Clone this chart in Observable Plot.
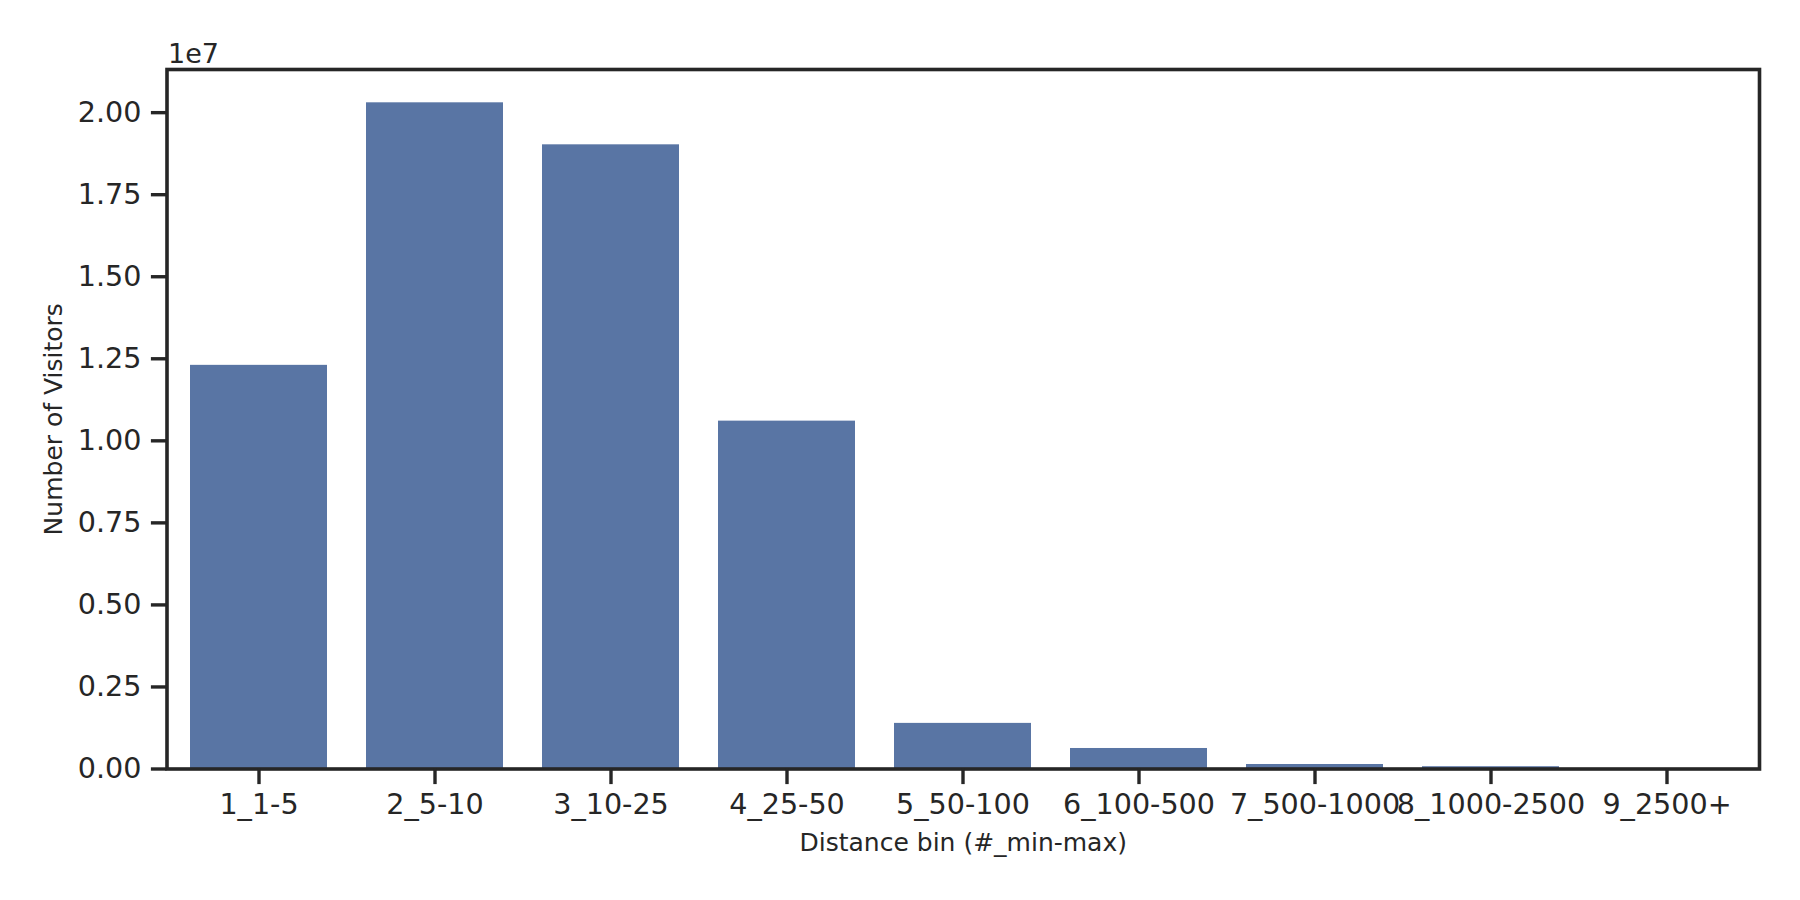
<!DOCTYPE html>
<html>
<head>
<meta charset="utf-8">
<script src="https://cdn.jsdelivr.net/npm/d3@7"></script>
<script src="https://cdn.jsdelivr.net/npm/@observablehq/plot@0.6"></script>
<style>
  html, body { margin: 0; padding: 0; background: #fff; }
</style>
</head>
<body>
<div id="chart"></div>
<script>
const categories = ["1_1-5", "2_5-10", "3_10-25", "4_25-50", "5_50-100", "6_100-500", "7_500-1000", "8_1000-2500", "9_2500+"];
const visitors = [12300000, 20300000, 19020000, 10600000, 1390000, 625000, 137000, 70000, 10000];
const yTicks = [0, 2500000, 5000000, 7500000, 10000000, 12500000, 15000000, 17500000, 20000000];
const xLabel = "Distance bin (#_min-max)";
const yLabel = "Number of Visitors";
const offsetLabel = "1e7";

const data = categories.map((c, i) => ({bin: c, value: visitors[i]}));
const ink = "#262626";
const yMax = d3.max(visitors) * 1.05;

const chart = Plot.plot({
  width: 1800,
  height: 900,
  marginLeft: 166.5,
  marginRight: 41,
  marginTop: 69,
  marginBottom: 131.5,
  style: {fontFamily: "DejaVu Sans", color: ink, background: "#fff"},
  x: {type: "band", domain: categories, paddingInner: 0.22, paddingOuter: 0.11, label: null},
  y: {domain: [0, yMax], label: null},
  marks: [
    Plot.barY(data, {x: "bin", y: "value", fill: "#5975a4"}),
    Plot.frame({stroke: ink, strokeWidth: 3.6}),
    Plot.axisX({tickSize: 15.6, strokeWidth: 3.4, tickPadding: 9, fontSize: 28.6, fill: ink, stroke: ink, label: null}),
    Plot.axisY({ticks: yTicks, tickFormat: d => (d / 1e7).toFixed(2), tickSize: 15.6, strokeWidth: 3.4, tickPadding: 10, fontSize: 28.6, fill: ink, stroke: ink, label: null}),
    Plot.text([xLabel], {frameAnchor: "bottom", lineAnchor: "middle", dy: 73.5, fontSize: 25, fill: ink}),
    Plot.text([yLabel], {frameAnchor: "left", rotate: -90, textAnchor: "middle", lineAnchor: "middle", dx: -113.5, fontSize: 25, fill: ink}),
    Plot.text([offsetLabel], {frameAnchor: "top-left", textAnchor: "start", lineAnchor: "bottom", dy: -7, dx: 1, fontSize: 27, fill: ink})
  ]
});
document.getElementById("chart").appendChild(chart);
</script>
</body>
</html>
